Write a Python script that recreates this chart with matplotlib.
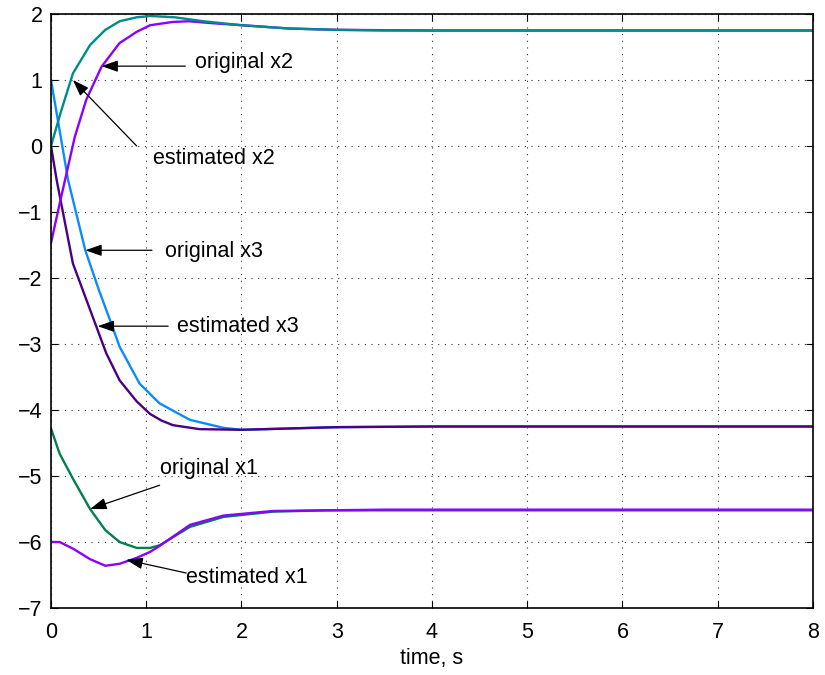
import matplotlib
matplotlib.use("Agg")
import matplotlib.pyplot as plt

# ---- data ----
t_x2_orig = [0, 0.1, 0.23, 0.41, 0.57, 0.72, 0.9, 1.04, 1.3, 1.6, 2.0, 2.5, 3.0, 3.5, 4, 5, 6, 7, 8]
x2_orig = [0, 0.5, 1.1, 1.53, 1.76, 1.89, 1.95, 1.97, 1.95, 1.89, 1.83, 1.78, 1.76, 1.75, 1.75, 1.75, 1.75, 1.75, 1.75]

t_x2_est = [0, 0.09, 0.25, 0.37, 0.53, 0.72, 0.9, 1.04, 1.28, 1.45, 1.7, 2.0, 2.5, 3.0, 4, 5, 6, 7, 8]
x2_est = [-1.47, -0.88, 0.14, 0.7, 1.2, 1.56, 1.73, 1.83, 1.88, 1.89, 1.86, 1.83, 1.78, 1.76, 1.75, 1.75, 1.75, 1.75, 1.75]

t_x3_orig = [0, 0.18, 0.36, 0.5, 0.62, 0.72, 0.93, 1.14, 1.46, 1.81, 2.0, 2.5, 3.0, 4, 5, 6, 7, 8]
x3_orig = [1.0, -0.52, -1.58, -2.17, -2.64, -3.04, -3.6, -3.9, -4.15, -4.27, -4.3, -4.28, -4.26, -4.25, -4.25, -4.25, -4.25, -4.25]

t_x3_est = [0, 0.06, 0.23, 0.41, 0.58, 0.72, 0.9, 1.04, 1.16, 1.28, 1.56, 2.0, 2.5, 3.0, 4, 5, 6, 7, 8]
x3_est = [0, -0.52, -1.78, -2.48, -3.14, -3.55, -3.87, -4.06, -4.16, -4.23, -4.29, -4.3, -4.28, -4.26, -4.25, -4.25, -4.25, -4.25, -4.25]

t_x1 = [0, 0.09, 0.23, 0.41, 0.57, 0.72, 0.9, 1.04, 1.14, 1.46, 1.81, 2.33, 2.9, 3.5, 4, 5, 6, 7, 8]
x1_orig = [-4.28, -4.66, -5.04, -5.5, -5.82, -6.0, -6.09, -6.09, -6.05, -5.77, -5.62, -5.54, -5.52, -5.52, -5.52, -5.52, -5.52, -5.52, -5.52]
x1_est = [-6.0, -6.0, -6.1, -6.26, -6.36, -6.33, -6.24, -6.15, -6.06, -5.74, -5.6, -5.53, -5.52, -5.51, -5.51, -5.51, -5.51, -5.51, -5.51]

x_ticks = [0, 1, 2, 3, 4, 5, 6, 7, 8]
y_ticks = [-7, -6, -5, -4, -3, -2, -1, 0, 1, 2]

# annotations: (label, text position, arrow start, arrow tip)
labels = ["original x2", "estimated x2", "original x3", "estimated x3", "original x1", "estimated x1"]
text_pos = [(1.51, 1.27), (1.07, -0.19), (1.2, -1.6), (1.32, -2.73), (1.14, -4.88), (1.42, -6.54)]
arrow_start = [(1.41, 1.21), (0.9, 0.0), (1.06, -1.58), (1.23, -2.73), (1.14, -5.14), (1.42, -6.47)]
arrow_tip = [(0.53, 1.21), (0.23, 1.0), (0.36, -1.58), (0.49, -2.73), (0.41, -5.5), (0.79, -6.27)]

plt.rcParams['font.family'] = ['Liberation Sans', 'DejaVu Sans']
FS = 15.5

fig = plt.figure(figsize=(8.25, 6.75), dpi=100)
ax = fig.add_axes([51/825, 1 - 608/675, (813-51)/825, (608-14)/675])

lw = 1.7
ax.plot(t_x3_orig, x3_orig, color='#0A8CFF', lw=lw)
ax.plot(t_x3_est, x3_est, color='#4B0082', lw=lw)
ax.plot(t_x2_est, x2_est, color='#8B00FF', lw=lw)
ax.plot(t_x2_orig, x2_orig, color='#008B8B', lw=lw)
ax.plot(t_x1, x1_orig, color='#00804A', lw=lw)
ax.plot(t_x1, x1_est, color='#8B00FF', lw=lw)

for lab, tp, st, tip in zip(labels, text_pos, arrow_start, arrow_tip):
    ax.annotate('', xy=tip, xytext=st,
                arrowprops=dict(arrowstyle='-|>,head_length=1.0,head_width=0.35',
                                color='black', lw=0.9, shrinkA=0, shrinkB=0))
    ax.text(tp[0], tp[1], lab, fontsize=FS, ha='left', va='center')

ax.set_xlim(0, 8)
ax.set_ylim(-7, 2)
ax.set_xticks(x_ticks)
ax.set_yticks(y_ticks)
ax.set_xticklabels([str(v) for v in x_ticks])
ax.set_yticklabels([str(v).replace('-', '\u2212') for v in y_ticks])
ax.tick_params(direction='in', labelsize=FS, length=5, width=0.8,
               top=True, right=True)
ax.tick_params(axis='x', pad=10)
ax.tick_params(axis='y', pad=6)
ax.grid(True, linestyle=(0, (1, 5)), color='#333333', linewidth=0.8)
for sp in ax.spines.values():
    sp.set_linewidth(1.2)
ax.set_xlabel('time, s', fontsize=FS, labelpad=4)

fig.savefig('out.png', dpi=100)
